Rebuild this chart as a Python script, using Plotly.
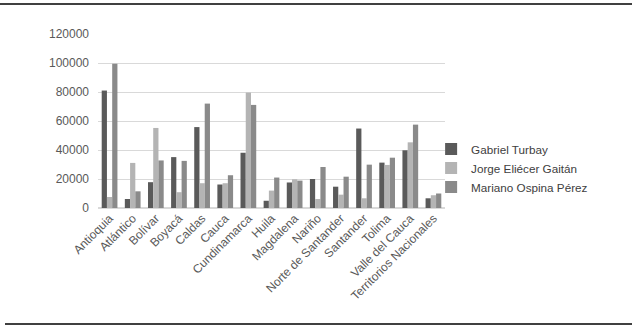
import plotly.graph_objects as go

categories = ["Antioquia", "Atlántico", "Bolívar", "Boyacá", "Caldas", "Cauca",
              "Cundinamarca", "Huila", "Magdalena", "Nariño", "Norte de Santander",
              "Santander", "Tolima", "Valle del Cauca", "Territorios Nacionales"]
turbay = [81000, 6200, 17800, 35100, 55800, 16200, 38100, 5000, 17600, 20000, 14700, 54800, 31300, 39800, 6700]
gaitan = [7600, 31100, 55200, 10900, 17100, 17100, 79600, 12000, 19800, 6200, 9200, 6700, 29700, 45300, 8800]
ospina = [99400, 11500, 32800, 32500, 72000, 22600, 71100, 21000, 18900, 28300, 21600, 29900, 34700, 57500, 10000]

series_names = ["Gabriel Turbay", "Jorge Eliécer Gaitán", "Mariano Ospina Pérez"]
colors = ["#5a5a5a", "#b4b4b4", "#8a8a8a"]

fig = go.Figure()
for name, vals, col in zip(series_names, [turbay, gaitan, ospina], colors):
    fig.add_trace(go.Bar(x=categories, y=vals, name=name, marker_color=col,
                         marker_line_width=0))

W, H = 640, 327
L, R, T, B = 98, 195, 34, 119
pw, ph = W - L - R, H - T - B

fig.update_layout(
    width=W, height=H,
    margin=dict(l=L, r=R, t=T, b=B, autoexpand=False),
    paper_bgcolor="white", plot_bgcolor="white",
    barmode="group", bargap=0.32, bargroupgap=0,
    font=dict(family="Liberation Sans, Arial, sans-serif", size=12, color="#595959"),
    legend=dict(x=0.96, y=(H - B - 168) / ph, xanchor="left", yanchor="middle",
                bgcolor="rgba(0,0,0,0)",
                font=dict(size=11.7, color="#404040"), itemwidth=30),
    showlegend=True,
)
fig.update_xaxes(tickangle=-45, showgrid=False, showline=False, ticks="", automargin=False,
                 tickfont=dict(size=12, color="#595959"))
fig.update_yaxes(range=[0, 120000], dtick=20000, showgrid=True, gridcolor="#d9d9d9",
                 gridwidth=1, zeroline=True, zerolinecolor="#d9d9d9", showline=False,
                 ticks="", tickformat="d", ticklabelstandoff=8, automargin=False,
                 tickfont=dict(size=12, color="#595959"))

fig.add_shape(type="line", xref="paper", yref="paper",
              x0=-L / pw, x1=(632 - L) / pw, y0=(H - B - 4) / ph, y1=(H - B - 4) / ph,
              line=dict(color="#404040", width=2))
fig.add_shape(type="line", xref="paper", yref="paper",
              x0=(5 - L) / pw, x1=(632 - L) / pw, y0=-(324 - (H - B)) / ph, y1=-(324 - (H - B)) / ph,
              line=dict(color="#404040", width=2))

fig.write_html("out.html", config={"displayModeBar": False},
               post_script="document.body.style.margin='0';")
